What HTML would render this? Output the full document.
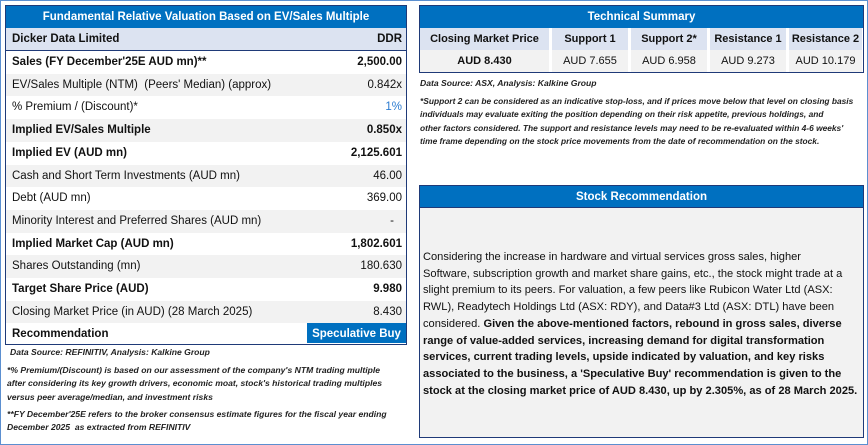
<!DOCTYPE html>
<html><head><meta charset="utf-8"><style>
*{margin:0;padding:0;box-sizing:border-box}
body{width:868px;height:445px;background:#fff;font-family:"Liberation Sans",sans-serif;position:relative;overflow:hidden;color:#111}
.frame{position:absolute;left:0;top:0;width:868px;height:445px;border:1px solid #5b8fd0}
.abs{position:absolute}
.hdr{background:#0070C0;color:#fff;font-weight:bold;font-size:11.5px;text-align:center;line-height:22px}
.row{position:absolute;left:0;width:100%;height:22.7px;font-size:11.5px;line-height:22.7px;padding:0 6px}
.row span.v{position:absolute;right:4px;top:0}
.b{font-weight:bold}
.g{background:#F2F2F2}
.note{position:absolute;font-size:8.6px;font-style:italic;font-weight:bold;line-height:13.3px;color:#222;white-space:nowrap}
.tc{position:absolute;text-align:center;font-size:11px;line-height:22px}
</style></head><body>
<div class="frame"></div>

<div class="abs" style="left:5px;top:5px;width:402px;height:340px;border:1.5px solid #1f3a78">
  <div class="hdr" style="height:22px">Fundamental Relative Valuation Based on EV/Sales Multiple</div>
  <div class="row b" style="top:22px;background:#DCE3F1;border-bottom:1px solid #1f3a78">Dicker Data Limited<span class="v">DDR</span></div>
  <div class="row b" style="top:45px">Sales (FY December'25E AUD mn)**<span class="v">2,500.00</span></div>
  <div class="row g" style="top:67.7px">EV/Sales Multiple (NTM) &nbsp;(Peers' Median) (approx)<span class="v">0.842x</span></div>
  <div class="row" style="top:90.4px">% Premium / (Discount)*<span class="v" style="color:#2b7bd0">1%</span></div>
  <div class="row b g" style="top:113.1px">Implied EV/Sales Multiple<span class="v">0.850x</span></div>
  <div class="row b" style="top:135.8px">Implied EV (AUD mn)<span class="v">2,125.601</span></div>
  <div class="row g" style="top:158.5px">Cash and Short Term Investments (AUD mn)<span class="v">46.00</span></div>
  <div class="row" style="top:181.2px">Debt (AUD mn)<span class="v">369.00</span></div>
  <div class="row g" style="top:203.9px">Minority Interest and Preferred Shares (AUD mn)<span class="v" style="right:12px">-</span></div>
  <div class="row b" style="top:226.6px">Implied Market Cap (AUD mn)<span class="v">1,802.601</span></div>
  <div class="row g" style="top:249.3px">Shares Outstanding (mn)<span class="v">180.630</span></div>
  <div class="row b" style="top:272px">Target Share Price (AUD)<span class="v">9.980</span></div>
  <div class="row g" style="top:294.7px">Closing Market Price (in AUD) (28 March 2025)<span class="v">8.430</span></div>
  <div class="row b" style="top:317.4px">Recommendation<span class="v" style="right:0;width:99px;background:#0070C0;color:#fff;text-align:center;height:20px">Speculative Buy</span></div>
</div>

<div class="note" style="left:10px;top:346px">Data Source: REFINITIV, Analysis: Kalkine Group</div>
<div class="note" style="left:7px;top:364px">*% Premium/(Discount) is based on our assessment of the company's NTM trading multiple<br>after considering its key growth drivers, economic moat, stock's historical trading multiples<br>versus peer average/median, and investment risks</div>
<div class="note" style="left:7px;top:408px">**FY December'25E refers to the broker consensus estimate figures for the fiscal year ending<br>December 2025 &nbsp;as extracted from REFINITIV</div>

<div class="abs" style="left:419px;top:5px;width:445px;height:68px;border:1.5px solid #1f3a78">
  <div class="hdr" style="height:22px">Technical Summary</div>
  <div class="tc b" style="left:0;top:22px;width:129px;background:#DCE3F1">Closing Market Price</div>
  <div class="tc b" style="left:132px;top:22px;width:76px;background:#DCE3F1">Support 1</div>
  <div class="tc b" style="left:211px;top:22px;width:76px;background:#DCE3F1">Support 2*</div>
  <div class="tc b" style="left:290px;top:22px;width:76px;background:#DCE3F1">Resistance 1</div>
  <div class="tc b" style="left:369px;top:22px;width:73px;background:#DCE3F1">Resistance 2</div>
  <div class="tc b g" style="left:0;top:44px;width:129px">AUD 8.430</div>
  <div class="tc g" style="left:132px;top:44px;width:76px">AUD 7.655</div>
  <div class="tc g" style="left:211px;top:44px;width:76px">AUD 6.958</div>
  <div class="tc g" style="left:290px;top:44px;width:76px">AUD 9.273</div>
  <div class="tc g" style="left:369px;top:44px;width:73px">AUD 10.179</div>
</div>
<div class="note" style="left:420px;top:77px">Data Source: ASX, Analysis: Kalkine Group</div>
<div class="note" style="left:420px;top:95px;font-size:8.4px">*Support 2 can be considered as an indicative stop-loss, and if prices move below that level on closing basis<br>individuals may evaluate exiting the position depending on their risk appetite, previous holdings, and<br>other factors considered. The support and resistance levels may need to be re-evaluated within 4-6 weeks'<br>time frame depending on the stock price movements from the date of recommendation on the stock.</div>

<div class="abs" style="left:419px;top:185px;width:445px;height:253px;border:1.5px solid #1f3a78;background:#F2F2F2;overflow:hidden">
  <div class="hdr" style="height:22px;border-bottom:1px solid #1f3a78">Stock Recommendation</div>
  <div class="abs" style="left:3px;top:63px;font-size:11.1px;line-height:16.7px;white-space:nowrap">Considering the increase in hardware and virtual services gross sales, higher<br>Software, subscription growth and market share gains, etc., the stock might trade at a<br>slight premium to its peers. For valuation, a few peers like Rubicon Water Ltd (ASX:<br>RWL), Readytech Holdings Ltd (ASX: RDY), and Data#3 Ltd (ASX: DTL) have been<br>considered. <b>Given the above-mentioned factors, rebound in gross sales, diverse<br>range of value-added services, increasing demand for digital transformation<br>services, current trading levels, upside indicated by valuation, and key risks<br>associated to the business, a 'Speculative Buy' recommendation is given to the<br>stock at the closing market price of AUD 8.430, up by 2.305%, as of 28 March 2025.</b></div>
</div>
</body></html>
